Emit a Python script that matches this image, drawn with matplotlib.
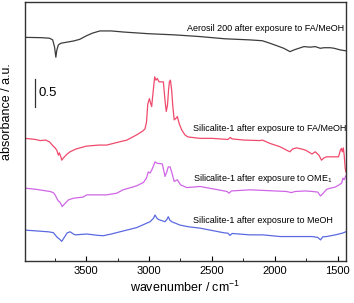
import matplotlib
matplotlib.use('Agg')
import matplotlib.pyplot as plt
from matplotlib.ticker import MultipleLocator

plt.rcParams['font.family'] = ['Liberation Sans', 'DejaVu Sans']
plt.rcParams['mathtext.fontset'] = 'custom'
plt.rcParams['mathtext.rm'] = 'Liberation Sans'
plt.rcParams['mathtext.it'] = 'Liberation Sans:italic'

# Aerosil 200 after exposure to FA/MeOH
aerosil_wn = [3984, 3860, 3790, 3765, 3750, 3740, 3732, 3720, 3700, 3650, 3600, 3550,
              3500, 3450, 3390, 3300, 3200, 3000, 2800, 2600, 2400, 2200, 2100, 2040,
              1990, 1930, 1880, 1850, 1810, 1770, 1720, 1680, 1640, 1610, 1560, 1530,
              1480, 1437]
aerosil_abs = [-0.005, -0.01, -0.02, -0.05, -0.18, -0.36, -0.23, -0.14, -0.11, -0.09, -0.07, -0.04,
               0.02, 0.07, 0.11, 0.11, 0.09, 0.06, 0.04, 0.01, -0.03, -0.05, -0.065, -0.11,
               -0.15, -0.2, -0.26, -0.23, -0.2, -0.17, -0.18, -0.17, -0.2, -0.19, -0.19, -0.2,
               -0.23, -0.245]

# Silicalite-1 after exposure to FA/MeOH
famoh_wn = [3984, 3900, 3865, 3820, 3790, 3760, 3746, 3733, 3720, 3712, 3700, 3693, 3680,
            3650, 3627, 3580, 3500, 3400, 3336, 3230, 3175, 3100, 3050, 3032, 3020, 3010,
            2997, 2985, 2979, 2966, 2955, 2945, 2935, 2920, 2907, 2894, 2886, 2873, 2863,
            2853, 2845, 2838, 2830, 2820, 2812, 2800, 2785, 2775, 2760, 2740, 2714, 2690,
            2595, 2500, 2373, 2355, 2340, 2250, 2119, 2100, 2040, 1960, 1900, 1881, 1860,
            1828, 1790, 1757, 1720, 1706, 1680, 1651, 1630, 1611, 1590, 1560, 1520, 1495,
            1480, 1472, 1465, 1457, 1450, 1442, 1437]
famoh_abs = [-0.01, -0.03, -0.05, -0.04, -0.075, -0.15, -0.18, -0.22, -0.31, -0.27, -0.34, -0.4, -0.36,
             -0.29, -0.25, -0.2, -0.15, -0.13, -0.13, -0.07, -0.04, 0.05, 0.12, 0.16, 0.28, 0.6,
             0.7, 0.6, 0.56, 0.85, 1.09, 1.03, 1.06, 1.0, 1.0, 1.0, 1.0, 0.67, 0.47,
             0.59, 0.85, 1.0, 1.03, 0.85, 0.59, 0.32, 0.35, 0.38, 0.25, 0.14, 0.05, 0.015,
             -0.01, -0.01, -0.03, 0.005, -0.02, -0.04, -0.05, -0.04, -0.1, -0.16, -0.23, -0.25, -0.2,
             -0.18, -0.2, -0.22, -0.27, -0.29, -0.25, -0.31, -0.4, -0.36, -0.34, -0.34, -0.34, -0.34,
             -0.22, -0.19, -0.25, -0.18, -0.31, -0.54, -0.61]

# Silicalite-1 after exposure to OME1
ome_wn = [3984, 3900, 3786, 3760, 3746, 3733, 3720, 3712, 3700, 3690, 3670, 3640, 3600,
          3524, 3494, 3400, 3336, 3256, 3206, 3100, 3045, 3020, 3006, 2992, 2979, 2952,
          2939, 2926, 2913, 2894, 2873, 2859, 2847, 2833, 2820, 2800, 2775, 2750, 2700,
          2595, 2450, 2380, 2365, 2345, 2198, 2000, 1907, 1870, 1840, 1757, 1700, 1660,
          1638, 1620, 1589, 1560, 1520, 1490, 1470, 1460, 1450, 1437]
ome_abs = [0.0, -0.02, -0.06, -0.08, -0.12, -0.18, -0.23, -0.24, -0.28, -0.33, -0.28, -0.21, -0.18,
           -0.16, -0.12, -0.12, -0.12, -0.09, -0.03, 0.04, 0.1, 0.18, 0.29, 0.27, 0.32, 0.47,
           0.45, 0.44, 0.44, 0.43, 0.21, 0.29, 0.38, 0.38, 0.29, 0.12, 0.15, 0.06, 0.01,
           0.03, -0.03, -0.06, -0.09, -0.05, -0.03, -0.05, -0.06, -0.08, -0.06, -0.05, -0.06, -0.07,
           -0.14, -0.1, -0.02, 0.0, 0.02, 0.06, 0.09, 0.18, 0.15, 0.22]

# Silicalite-1 after exposure to MeOH
meoh_wn = [3984, 3800, 3760, 3733, 3712, 3693, 3670, 3650, 3627, 3600, 3587, 3494, 3400,
           3363, 3300, 3230, 3098, 2992, 2965, 2952, 2940, 2926, 2873, 2855, 2847, 2835,
           2820, 2754, 2688, 2595, 2400, 2373, 2357, 2340, 2200, 2095, 1960, 1800, 1706,
           1660, 1638, 1620, 1589, 1520, 1465, 1437]
meoh_abs = [0.0, -0.03, -0.045, -0.12, -0.16, -0.2, -0.12, -0.05, -0.03, -0.07, -0.085, -0.07, -0.095,
            -0.1, -0.07, -0.03, 0.045, 0.15, 0.21, 0.27, 0.22, 0.19, 0.15, 0.2, 0.24, 0.18,
            0.15, 0.09, 0.06, 0.035, -0.05, -0.055, -0.095, -0.06, -0.085, -0.085, -0.115, -0.115, -0.115,
            -0.13, -0.175, -0.12, -0.115, -0.085, -0.055, -0.03]

offsets = [4.0, 2.2, 1.3, 0.55]
labels = ['Aerosil 200 after exposure to FA/MeOH',
          'Silicalite-1 after exposure to FA/MeOH',
          'Silicalite-1 after exposure to OME$_\\mathregular{1}$',
          'Silicalite-1 after exposure to MeOH']
label_x = [2698, 2647, 2647, 2647]
label_y = [4.16, 2.36, 1.48, 0.73]
colors = ['#3c3c3c', '#f04a6c', '#cf66e6', '#5b6ae0']

fig = plt.figure(figsize=(3.54, 3.03), dpi=100)
ax = fig.add_axes([0.0706, 0.139, 0.907, 0.854])

series = [(aerosil_wn, aerosil_abs), (famoh_wn, famoh_abs),
          (ome_wn, ome_abs), (meoh_wn, meoh_abs)]
for (wn, ab), off, c in zip(series, offsets, colors):
    ax.plot(wn, [a + off for a in ab], color=c, lw=0.9)

for txt, x, y in zip(labels, label_x, label_y):
    ax.text(x, y, txt, fontsize=6.5, ha='left', va='center')

# scale bar
ax.plot([3905, 3905], [2.75, 3.25], color='#333333', lw=0.9)
ax.text(3881, 3.0, '0.5', fontsize=9.5, ha='left', va='center')

ax.set_xlim(3985, 1435)
ax.set_ylim(0, 4.625)
ax.xaxis.set_major_locator(MultipleLocator(500))
ax.xaxis.set_minor_locator(MultipleLocator(250))
ax.tick_params(axis='x', which='both', direction='in', labelsize=8, top=False)
ax.tick_params(axis='x', which='major', length=3.5)
ax.tick_params(axis='x', which='minor', length=2)
ax.set_yticks([])
for s in ax.spines.values():
    s.set_linewidth(1.0)
    s.set_color('#333333')

ax.set_xlabel('wavenumber / cm$^{-1}$', fontsize=9, labelpad=3)
ax.set_ylabel('absorbance / a.u.', fontsize=9)
ax.yaxis.set_label_coords(-0.036, 0.575)

fig.savefig('out.png', dpi=100)
